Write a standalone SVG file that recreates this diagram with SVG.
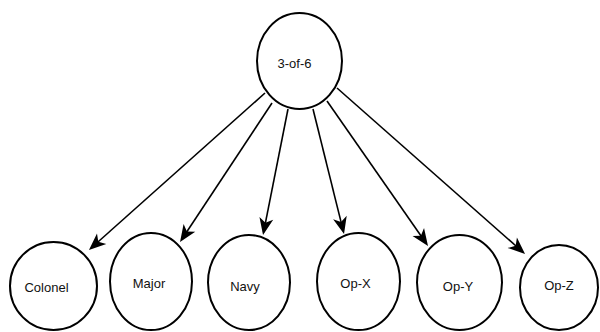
<svg xmlns="http://www.w3.org/2000/svg" width="600" height="332" viewBox="0 0 600 332">
  <style>
    .node ellipse { fill: #ffffff; stroke: #000000; stroke-width: 2; }
    .node text { font-family: "Liberation Sans", Arial, sans-serif; font-size: 13px; fill: #111111; text-anchor: middle; }
    .edge { stroke: #000000; stroke-width: 1.6; fill: none; marker-end: url(#arrow); }
  </style>
  <defs>
    <marker id="arrow" viewBox="-15 -8 19 16" refX="0" refY="0" markerWidth="19" markerHeight="16" markerUnits="userSpaceOnUse" orient="auto">
      <path d="M3,0 L-14,-7 L-9.5,0 L-14,7 Z" fill="#000000"/>
    </marker>
  </defs>
  <rect width="600" height="332" fill="#ffffff"/>

  <!-- connectors from the threshold node to each member -->
  <g id="connectors">
    <line class="edge" x1="265" y1="93" x2="91.2" y2="248"/>
    <line class="edge" x1="272" y1="103" x2="181.7" y2="239.5"/>
    <line class="edge" x1="288" y1="109" x2="263.6" y2="232.1"/>
    <line class="edge" x1="313" y1="109" x2="343.3" y2="231.1"/>
    <line class="edge" x1="327" y1="101" x2="426.3" y2="243.5"/>
    <line class="edge" x1="337" y1="88" x2="522.8" y2="252"/>
  </g>

  <g id="threshold" class="node">
    <ellipse cx="299.5" cy="61" rx="42.5" ry="48"/>
    <text x="294.5" y="67.5">3-of-6</text>
  </g>
  <g id="colonel" class="node">
    <ellipse cx="53.5" cy="286" rx="43.5" ry="44"/>
    <text x="46.5" y="292">Colonel</text>
  </g>
  <g id="major" class="node">
    <ellipse cx="151" cy="281.5" rx="41" ry="48.5"/>
    <text x="149" y="288">Major</text>
  </g>
  <g id="navy" class="node">
    <ellipse cx="249" cy="282.5" rx="41" ry="47.5"/>
    <text x="245" y="291">Navy</text>
  </g>
  <g id="op-x" class="node">
    <ellipse cx="358.5" cy="281.5" rx="41.5" ry="48.5"/>
    <text x="355.5" y="288">Op-X</text>
  </g>
  <g id="op-y" class="node">
    <ellipse cx="459.5" cy="282.5" rx="42.5" ry="47.5"/>
    <text x="458" y="291">Op-Y</text>
  </g>
  <g id="op-z" class="node">
    <ellipse cx="559" cy="287.5" rx="39" ry="42.5"/>
    <text x="559" y="290">Op-Z</text>
  </g>
</svg>
